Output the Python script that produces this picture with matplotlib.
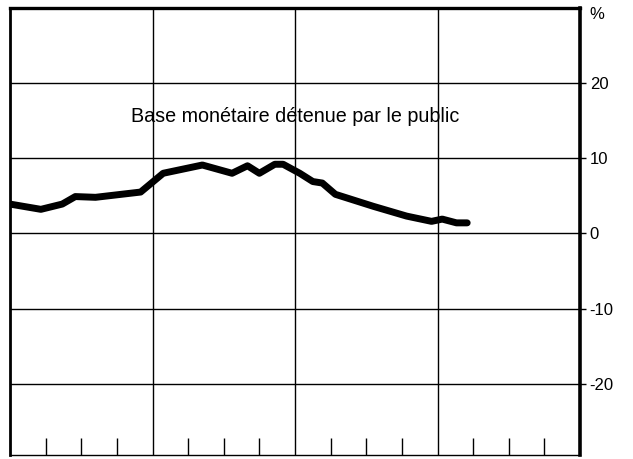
import matplotlib
matplotlib.use("Agg")
import matplotlib.pyplot as plt
from matplotlib.ticker import FixedLocator

plt.rcParams["font.family"] = ["Liberation Sans", "DejaVu Sans"]

# months since start of the period (4 years, quarterly ticks)
months = [0, 2.6, 4.4, 5.5, 7.2, 11.0, 12.9, 16.2, 18.7, 20.0, 21.0, 22.3, 23.0,
          24.4, 25.5, 26.3, 27.4, 30.6, 33.4, 35.5, 36.4, 37.6, 38.5]
growth = [3.9, 3.2, 3.9, 4.9, 4.8, 5.5, 8.0, 9.1, 8.0, 9.0, 8.0, 9.2, 9.2,
          8.0, 6.9, 6.7, 5.2, 3.6, 2.3, 1.6, 1.9, 1.4, 1.4]
y_ticks = [20, 10, 0, -10, -20]
y_labels = ["20", "10", "0", "-10", "-20"]
series_label = "Base monétaire détenue par le public"

fig = plt.figure(figsize=(6.33, 4.59), dpi=100)
ax = fig.add_axes([10 / 633, 4 / 459, 570 / 633, 447 / 459])

ax.plot(months, growth, color="black", lw=5.0, solid_capstyle="round",
        solid_joinstyle="round", zorder=3)

ax.set_xlim(0, 48)
ax.set_ylim(-29.5, 30)

# year grid and quarterly ticks
for m in (12, 24, 36):
    ax.axvline(m, color="black", lw=1.0, zorder=1)
for yv in y_ticks:
    ax.axhline(yv, color="black", lw=1.0, zorder=1)

ax.xaxis.set_major_locator(FixedLocator([m for m in range(3, 48, 3) if m % 12]))
ax.tick_params(axis="x", direction="in", length=12, width=1.0, labelbottom=False)

ax.yaxis.tick_right()
ax.set_yticks(y_ticks)
ax.set_yticklabels(y_labels)
ax.tick_params(axis="y", direction="out", length=4, width=1.0, pad=3, labelsize=12)

for side, w in (("top", 2.4), ("right", 2.6), ("left", 2.0), ("bottom", 1.0)):
    ax.spines[side].set_linewidth(w)

ax.text(1.016, 0.985, "%", transform=ax.transAxes, ha="left", va="center", fontsize=12)
ax.text(24.0, 15.6, series_label, ha="center", va="center", fontsize=14.2)

fig.savefig("out.png", dpi=100)
